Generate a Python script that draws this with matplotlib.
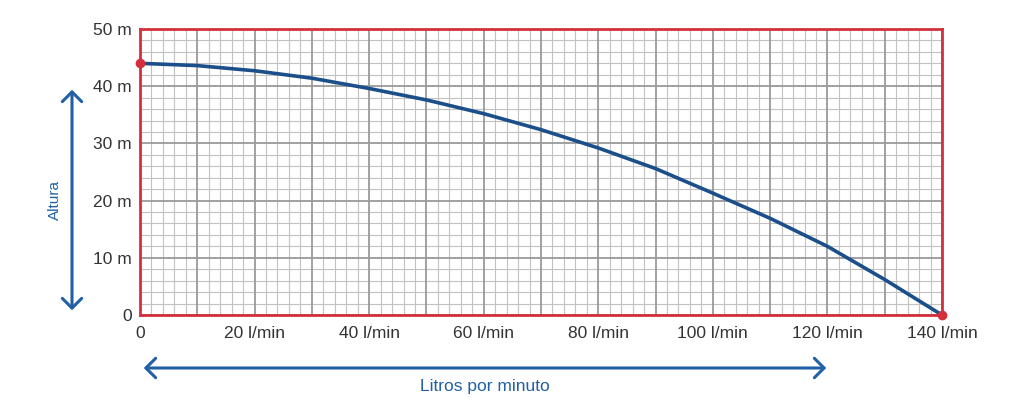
import numpy as np
import matplotlib
matplotlib.use("Agg")
import matplotlib.pyplot as plt

# caudal (l/min) y altura (m)
caudal = [0, 10, 20, 30, 40, 50, 60, 70, 80, 90, 100, 110, 120, 130, 140]
altura = [44.0, 43.6, 42.7, 41.4, 39.6, 37.6, 35.2, 32.4, 29.2, 25.6, 21.3, 16.9, 12.0, 6.2, 0.0]

x_ticks = [0, 20, 40, 60, 80, 100, 120, 140]
x_labels = ["0", "20 l/min", "40 l/min", "60 l/min", "80 l/min", "100 l/min", "120 l/min", "140 l/min"]
y_ticks = [0, 10, 20, 30, 40, 50]
y_labels = ["0", "10 m", "20 m", "30 m", "40 m", "50 m"]

plt.rcParams['font.family'] = ['Liberation Sans', 'DejaVu Sans']

rojo = '#d3303c'
azul = '#1b4f8a'
azul_flecha = '#2160a6'
texto = '#333333'

W, H = 1024, 417
fig = plt.figure(figsize=(W / 100, H / 100), dpi=100)
ax = fig.add_axes([140 / W, 1 - 315 / H, (942 - 140) / W, (315 - 29) / H])
ax.set_xlim(0, 140)
ax.set_ylim(0, 50)

# cuadricula tipo papel milimetrado
for v in np.arange(0, 141, 2):
    if v % 10:
        ax.axvline(v, color='#c2c2c2', lw=0.8, zorder=1)
for v in np.arange(0, 51, 2):
    if v % 10:
        ax.axhline(v, color='#c2c2c2', lw=0.8, zorder=1)
for v in np.arange(0, 141, 10):
    ax.axvline(v, color='#9a9a9a', lw=1.3, zorder=2)
for v in np.arange(0, 51, 10):
    ax.axhline(v, color='#9a9a9a', lw=1.3, zorder=2)

for s in ax.spines.values():
    s.set_color(rojo)
    s.set_linewidth(2)
    s.set_zorder(3)

ax.plot(caudal, altura, color=azul, lw=2.6, zorder=4, solid_capstyle='round')
ax.plot([caudal[0], caudal[-1]], [altura[0], altura[-1]], 'o', color=rojo, ms=6,
        zorder=5, clip_on=False)

ax.set_xticks(x_ticks)
ax.set_xticklabels(x_labels, fontsize=12.5, color=texto)
ax.set_yticks(y_ticks)
ax.set_yticklabels(y_labels, fontsize=12.5, color=texto)
ax.tick_params(length=0, pad=8)
ax.tick_params(axis='y', pad=6)

# flechas y titulos de ejes
estilo = '<->,head_length=7,head_width=7'
fig.patches.append(matplotlib.patches.FancyArrowPatch(
    (72 / W, 1 - 313 / H), (72 / W, 1 - 87 / H), transform=fig.transFigure,
    arrowstyle=estilo, color=azul_flecha, lw=2.2))
fig.text(55 / W, 1 - 200 / H, "Altura", rotation=90, color=azul_flecha,
         fontsize=11, ha='center', va='center')

fig.patches.append(matplotlib.patches.FancyArrowPatch(
    (141 / W, 1 - 368 / H), (829 / W, 1 - 368 / H), transform=fig.transFigure,
    arrowstyle=estilo, color=azul_flecha, lw=2.2))
fig.text(485 / W, 1 - 386 / H, "Litros por minuto", color=azul_flecha,
         fontsize=12.5, ha='center', va='center')

fig.savefig("out.png", dpi=100)
